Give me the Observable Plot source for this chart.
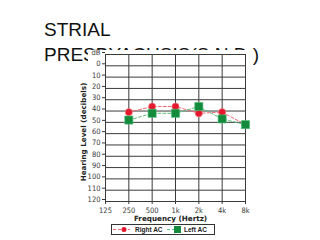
<!DOCTYPE html>
<html><head><meta charset="utf-8">
<script src="https://cdn.jsdelivr.net/npm/d3@7"></script>
<script src="https://cdn.jsdelivr.net/npm/@observablehq/plot@0.6"></script>
<style>
html,body{margin:0;padding:0;background:#fff;width:320px;height:240px;overflow:hidden;position:relative;}
#title{position:absolute;left:44px;top:17px;font-family:"Liberation Sans",Arial,sans-serif;font-size:19px;line-height:25px;color:#111;z-index:0;white-space:nowrap;}
#cover{position:absolute;left:88px;top:50px;width:165px;height:190px;background:#fff;z-index:1;}
#chart{position:absolute;left:60px;top:44px;z-index:2;}
#legend{position:absolute;left:111px;top:224px;width:102px;height:9px;border:1px solid #333;z-index:3;font-family:"Liberation Sans",Arial,sans-serif;font-weight:bold;font-size:6.5px;line-height:9px;color:#222;white-space:nowrap;}
#legend > *{position:absolute;top:0;}
</style></head>
<body>
<div id="title">STRIAL<br>PRESBYACUSIS(S.N.D.)</div>
<div id="cover"></div>
<div id="chart"></div>
<div id="legend"></div>
<script>
const freqs = [250, 500, 1000, 2000, 4000, 8000];
const freqTicks = [125, 250, 500, 1000, 2000, 4000, 8000];
const freqLabels = ["125", "250", "500", "1k", "2k", "4k", "8k"];
const dbTicks = [-10, 0, 10, 20, 30, 40, 50, 60, 70, 80, 90, 100, 110, 120];
const rightAC = [41, 36, 36, 42, 41, 52];
const leftAC = [48, 42, 42, 36, 47, 52];
const seriesNames = ["Right AC", "Left AC"];
const redC = "#e3172d", greenC = "#138a3c";

const right = freqs.map((f, i) => ({f, db: rightAC[i]}));
const left = freqs.map((f, i) => ({f, db: leftAC[i]}));

const plot = Plot.plot({
  width: 195, height: 181,
  marginLeft: 45, marginRight: 10, marginTop: 10, marginBottom: 24,
  style: {background: "transparent", fontFamily: "'DejaVu Sans Condensed','Liberation Sans Narrow',sans-serif", fontSize: "7.5px", color: "#3a3a3a"},
  x: {type: "log", base: 2, domain: [125, 8000]},
  y: {domain: [-10, 120], reverse: true},
  marks: [
    Plot.ruleX(freqTicks, {stroke: "#3a3a3a", strokeWidth: 1}),
    Plot.ruleY(dbTicks, {stroke: "#3a3a3a", strokeWidth: 1}),
    Plot.axisX({ticks: freqTicks, tickFormat: d => freqLabels[freqTicks.indexOf(d)], tickSize: 3, tickPadding: 3, label: null, stroke: "#3a3a3a"}),
    Plot.axisY({ticks: dbTicks, tickFormat: d => d === -10 ? "dB" : String(d), tickSize: 3, tickPadding: 2, label: null, dy: -2, stroke: "#3a3a3a"}),
    Plot.text(["Hearing Level (decibels)"], {frameAnchor: "left", textAnchor: "middle", rotate: -90, dx: -22, dy: 4, fontWeight: "bold", fontSize: 7.2, fill: "#222", fontFamily: "DejaVu Sans,sans-serif"}),
    Plot.text(["Frequency (Hertz)"], {frameAnchor: "bottom", dy: 19, dx: -5, fontWeight: "bold", fontSize: 7.2, fill: "#222", fontFamily: "DejaVu Sans,sans-serif"}),
    Plot.line(right, {x: "f", y: "db", stroke: "#f06a78", strokeWidth: 1, strokeDasharray: "3,2"}),
    Plot.line(left, {x: "f", y: "db", stroke: "#5fbf7a", strokeWidth: 1, strokeDasharray: "3,2"}),
    Plot.dot(right, {x: "f", y: "db", r: 3.6, fill: redC, stroke: "#ff8a90", strokeWidth: 0.6}),
    Plot.dot(left, {x: "f", y: "db", symbol: "square", r: 4.6, fill: greenC, stroke: "#4fc07a", strokeWidth: 0.6})
  ]
});
document.getElementById("chart").appendChild(plot);

const lg = document.getElementById("legend");
lg.innerHTML =
  `<svg width="18" height="9" style="left:1px"><line x1="0" y1="4.5" x2="17" y2="4.5" stroke="#f06a78" stroke-dasharray="3,2"/><circle cx="11" cy="4.5" r="2.5" fill="${redC}"/></svg>` +
  `<span style="left:23px">${seriesNames[0]}</span>` +
  `<svg width="16" height="9" style="left:55px"><line x1="0" y1="4.5" x2="14" y2="4.5" stroke="#5fbf7a" stroke-dasharray="3,2"/><rect x="7" y="1" width="7" height="7" fill="${greenC}"/></svg>` +
  `<span style="left:72px">${seriesNames[1]}</span>`;
</script>
</body></html>
